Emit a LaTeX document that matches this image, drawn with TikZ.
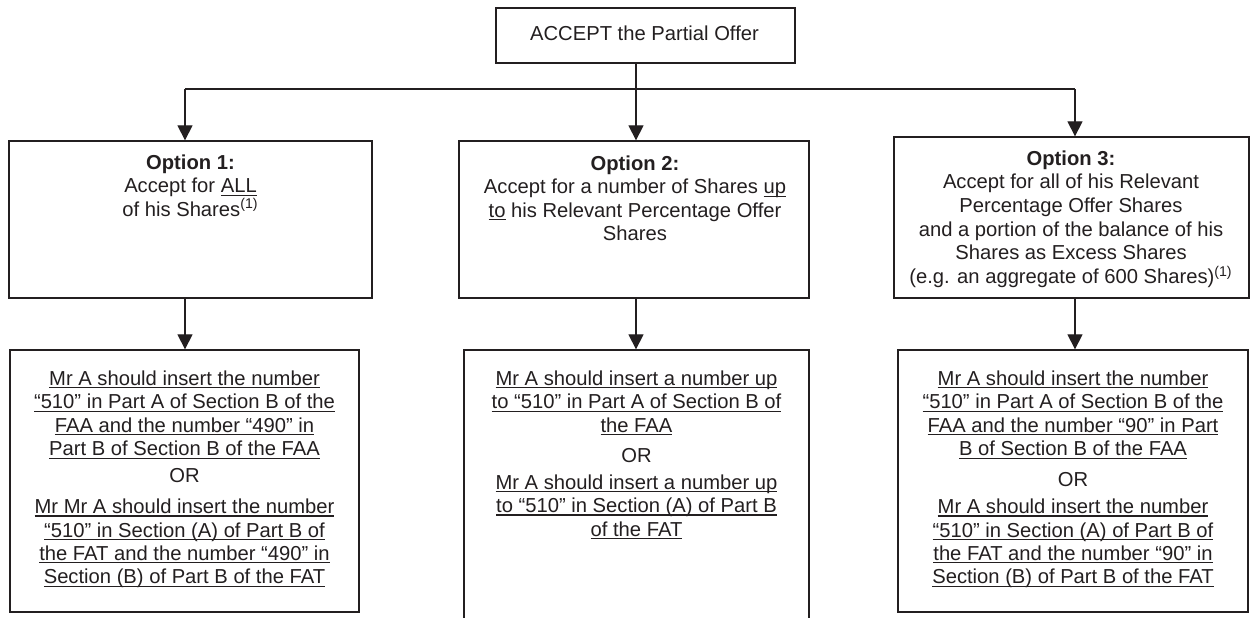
\documentclass[tikz,border=0pt]{standalone}
\usepackage{fontspec}
\setmainfont{Liberation Sans}
\usetikzlibrary{arrows.meta,fit}
\definecolor{ink}{RGB}{35,31,32}
\lineskiplimit=-6pt
\newcommand\myul[1]{\setbox0\hbox{#1}\rlap{\rule[-1.45pt]{\wd0}{0.55pt}}\box0\relax}
\tikzset{
  box/.style={draw=ink, line width=0.65pt, inner sep=0pt},
  txt/.style={align=center, inner sep=0pt, text=ink, font=\fontsize{10.1}{11.7}\selectfont},
  conn/.style={draw=ink, line width=0.6pt},
  arr/.style={conn, -{Triangle[length=7.5pt,width=7.5pt]}}
}
\begin{document}
\begin{tikzpicture}[x=0.5pt,y=-0.5pt]
\useasboundingbox (0,0) rectangle (1250,617);
\clip (0,0) rectangle (1250,617);
\fill[white] (0,0) rectangle (1250,617);
% boxes
\node[box, fit={(496,8) (795,63)}] (top) {};
\node[box, fit={(9,141) (372,298)}] (o1) {};
\node[box, fit={(459,141) (809,298)}] (o2) {};
\node[box, fit={(894,137) (1249,298)}] (o3) {};
\node[box, fit={(10,350) (359,612)}] (b1) {};
\node[box, fit={(464,350) (809,660)}] (b2) {};
\node[box, fit={(898,350) (1248,612)}] (b3) {};
% texts
\node[txt, anchor=base] (ttop) at (644.5,40.7) {ACCEPT the Partial Offer};
\node[txt, anchor=north] (t1) at (190.5,154.3) {\textbf{Option 1:}\\Accept for \myul{ALL}\\of his Shares\textsuperscript{(1)}};
\node[txt, anchor=north] (t2) at (635,155.3) {\textbf{Option 2:}\\Accept for a number of Shares \myul{up}\\\myul{to} his Relevant Percentage Offer\\Shares};
\node[txt, anchor=north, font=\fontsize{10.1}{11.8}\selectfont] (t3) at (1071,150.3) {\textbf{Option 3:}\\Accept for all of his Relevant\\Percentage Offer Shares\\and a portion of the balance of his\\Shares as Excess Shares\\(e.g. an aggregate of 600 Shares)\textsuperscript{(1)}};
\node[txt, anchor=north] (u1) at (184.5,370.5) {\myul{Mr A should insert the number}\\\myul{“510” in Part A of Section B of the}\\\myul{FAA and the number “490” in}\\\myul{Part B of Section B of the FAA}\\[1.7pt]OR\\[3.85pt]\myul{Mr Mr A should insert the number}\\\myul{“510” in Section (A) of Part B of}\\\myul{the FAT and the number “490” in}\\\myul{Section (B) of Part B of the FAT}};
\node[txt, anchor=north] (u2) at (636.5,370.5) {\myul{Mr A should insert a number up}\\\myul{to “510” in Part A of Section B of}\\\myul{the FAA}\\[3.35pt]OR\\[1.7pt]\myul{Mr A should insert a number up}\\\myul{to “510” in Section (A) of Part B}\\\myul{of the FAT}};
\node[txt, anchor=north] (u3) at (1073,370.5) {\myul{Mr A should insert the number}\\\myul{“510” in Part A of Section B of the}\\\myul{FAA and the number “90” in Part}\\\myul{B of Section B of the FAA}\\[3.85pt]OR\\[1.7pt]\myul{Mr A should insert the number}\\\myul{“510” in Section (A) of Part B of}\\\myul{the FAT and the number “90” in}\\\myul{Section (B) of Part B of the FAT}};
% connectors
\coordinate (c1) at (185,89);
\coordinate (c2) at (636,89);
\coordinate (c3) at (1075,89);
\draw[conn] (c1) -- (c3);
\draw[arr] (c2 |- top.south) -- (c2 |- o2.north);
\draw[arr] (c1) -- (c1 |- o1.north);
\draw[arr] (c3) -- (c3 |- o3.north);
\draw[arr] (c1 |- o1.south) -- (c1 |- b1.north);
\draw[arr] (c2 |- o2.south) -- (c2 |- b2.north);
\draw[arr] (c3 |- o3.south) -- (c3 |- b3.north);
\end{tikzpicture}
\end{document}
